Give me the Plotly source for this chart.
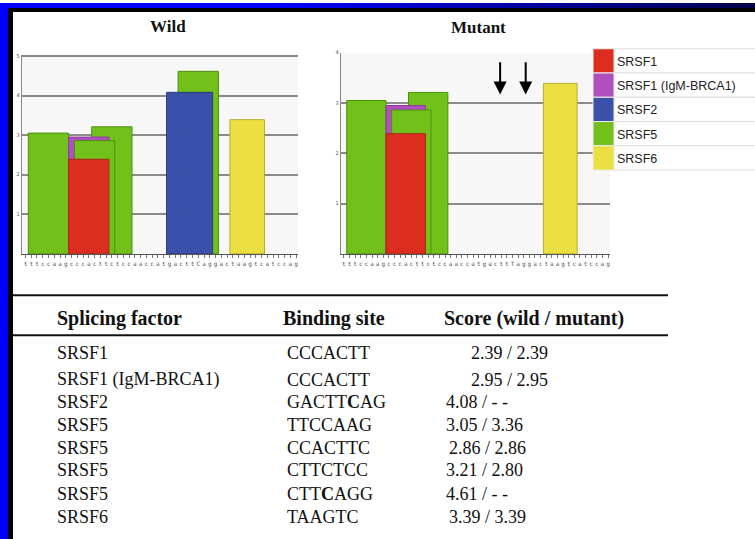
import plotly.graph_objects as go

W, H = 755, 539

# ---------------- data ----------------
factors = ["SRSF1", "SRSF1 (IgM-BRCA1)", "SRSF2", "SRSF5", "SRSF5", "SRSF5", "SRSF5", "SRSF6"]
sites = ["CCCACTT", "CCCACTT", "GACTTCAG", "TTCCAAG", "CCACTTC", "CTTCTCC", "CTTCAGG", "TAAGTC"]
sites_display = ["CCCACTT", "CCCACTT", "GACTT<b>C</b>AG", "TTCCAAG", "CCACTTC", "CTTCTCC",
                 "CTT<b>C</b>AGG", "TAAGTC"]
score_wild = [2.39, 2.95, 4.08, 3.05, 2.86, 3.21, 4.61, 3.39]
score_mutant_table = ["2.39", "2.95", "- -", "3.36", "2.86", "2.80", "- -", "3.39"]
# bar heights as drawn in the "Mutant" chart
mutant_chart = [2.39, 2.95, None, 3.05, 2.86, 3.21, None, 3.39]
seq_wild = "ptttccaagcccacttctccaaccatgacttCaggactaagtcatccag"
seq_mut = "ptttccaagcccacttctccaaccatgacttTaggactaagtcatccag"
legend_names = ["SRSF1", "SRSF1 (IgM-BRCA1)", "SRSF2", "SRSF5", "SRSF6"]
wild_yticks = [1, 2, 3, 4, 5]
mut_yticks = [1, 2, 3, 4]
arrow_pos = [29.8, 34.35]

# ---------------- styles ----------------
fill = {"SRSF1": "#dc2e1f", "SRSF1 (IgM-BRCA1)": "#b04fc0", "SRSF2": "#3b50a8",
        "SRSF5": "#72c11a", "SRSF6": "#ebdf42"}
edge = {"SRSF1": "#a8261a", "SRSF1 (IgM-BRCA1)": "#8a3a99", "SRSF2": "#2c3c80",
        "SRSF5": "#4e8f10", "SRSF6": "#b8ad30"}
draw_order = [3, 5, 1, 4, 0, 6, 2, 7]


def px(x):
    return x / W


def py(y):
    return 1 - y / H


fig = go.Figure()


def add_bars(seq, heights, xa, ya):
    for i in draw_order:
        h = heights[i]
        pos = seq.lower().find(sites[i].lower())
        if h is None or pos < 0:
            continue
        start = pos + 1
        L = len(sites[i])
        fig.add_trace(go.Bar(
            x=[start + (L - 1) / 2], y=[h], width=[L],
            marker=dict(color=fill[factors[i]], line=dict(color=edge[factors[i]], width=1)),
            xaxis=xa, yaxis=ya, showlegend=False, name=factors[i],
        ))


add_bars(seq_wild, score_wild, "x", "y")
add_bars(seq_mut, mutant_chart, "x2", "y2")

axis_x_common = dict(
    showgrid=False, zeroline=False, showline=True, linecolor="#555", linewidth=1.5,
    ticks="outside", ticklen=3, tickcolor="#777", tickwidth=1,
    tickfont=dict(family="DejaVu Sans Mono", size=6, color="#555"),
    tickangle=0, fixedrange=True,
)
axis_y_common = dict(
    showgrid=True, gridcolor="#8a8a8a", gridwidth=2, zeroline=False,
    showline=True, linecolor="#888", linewidth=1, ticks="",
    tickfont=dict(family="DejaVu Sans", size=5, color="#555"), fixedrange=True,
)

fig.update_layout(
    width=W, height=H, margin=dict(l=0, r=0, t=0, b=0),
    paper_bgcolor="white", plot_bgcolor="#f7f7f7",
    barmode="overlay", bargap=0,
    xaxis=dict(domain=[px(21.7), px(298)], range=[1.35, 49.32],
               tickvals=list(range(1, len(seq_wild) + 1)), ticktext=list(seq_wild),
               anchor="y", **axis_x_common),
    yaxis=dict(domain=[py(252.3), py(52)], range=[0, 5.03], tickvals=wild_yticks,
               anchor="x", **axis_y_common),
    xaxis2=dict(domain=[px(340.7), px(610)], range=[1.43, 49.35],
                tickvals=list(range(1, len(seq_mut) + 1)), ticktext=list(seq_mut),
                anchor="y2", **axis_x_common),
    yaxis2=dict(domain=[py(252.3), py(50)], range=[0, 4.0], tickvals=mut_yticks,
                anchor="x2", **axis_y_common),
)

shapes = []
annotations = []

# ---------------- slide frame ----------------
shapes.append(dict(type="rect", xref="paper", yref="paper", x0=0, x1=px(8), y0=0, y1=1,
                   fillcolor="#0000ff", line=dict(width=0), layer="above"))
shapes.append(dict(type="rect", xref="paper", yref="paper", x0=px(8), x1=px(13), y0=0, y1=py(5),
                   fillcolor="#000000", line=dict(width=0), layer="above"))
N = 24
for k in range(N):
    x0 = k * W / N
    x1 = (k + 1) * W / N
    t = max(0.0, (x0 - 260) / (W - 260))
    b = int(255 - t * (255 - 70))
    shapes.append(dict(type="rect", xref="paper", yref="paper", x0=px(x0), x1=px(x1) + 0.001,
                       y0=py(5.5), y1=1, fillcolor=f"rgb(0,0,{b})", line=dict(width=0),
                       layer="above"))
shapes.append(dict(type="rect", xref="paper", yref="paper", x0=px(8), x1=1, y0=py(9), y1=py(5),
                   fillcolor="#000000", line=dict(width=0), layer="above"))

# ---------------- titles ----------------
annotations.append(dict(text="<b>Wild</b>", x=px(168), y=py(24), xref="paper", yref="paper",
                        showarrow=False, xanchor="center", yanchor="middle",
                        font=dict(family="Liberation Serif", size=17, color="#111")))
annotations.append(dict(text="<b>Mutant</b>", x=px(478), y=py(25), xref="paper", yref="paper",
                        showarrow=False, xanchor="center", yanchor="middle",
                        font=dict(family="Liberation Serif", size=17, color="#111")))

# ---------------- arrows ----------------
for xa in arrow_pos:
    annotations.append(dict(x=xa, y=3.17, ax=xa, ay=3.84, xref="x2", yref="y2",
                            axref="x2", ayref="y2", text="", showarrow=True,
                            arrowhead=2, arrowsize=1.3, arrowwidth=2, arrowcolor="#000"))

# ---------------- legend ----------------
row_h = 24.4
for i, name in enumerate(legend_names):
    y0 = 46 + i * row_h
    y1 = y0 + row_h
    shapes.append(dict(type="rect", xref="paper", yref="paper", x0=px(614), x1=px(756),
                       y0=py(y1), y1=py(y0), fillcolor="white",
                       line=dict(color="#dddddd", width=1), layer="above"))
    shapes.append(dict(type="rect", xref="paper", yref="paper", x0=px(593), x1=px(614),
                       y0=py(y1), y1=py(y0), fillcolor=fill[name],
                       line=dict(color="#eeeeee", width=1), layer="above"))
    annotations.append(dict(text=name, x=px(615), y=py((y0 + y1) / 2 + 1), xref="paper",
                            yref="paper", showarrow=False, xanchor="left", yanchor="middle",
                            font=dict(family="Liberation Sans", size=12.5, color="#222")))

# ---------------- table ----------------
for yy in (294, 334):
    shapes.append(dict(type="line", xref="paper", yref="paper", x0=px(13), x1=px(668),
                       y0=py(yy), y1=py(yy), line=dict(color="#111", width=2)))

hdr_font = dict(family="Liberation Serif", size=20, color="#111")
for txt, xx in (("Splicing factor", 55), ("Binding site", 281), ("Score (wild / mutant)", 442)):
    annotations.append(dict(text=f"<b>{txt}</b>", x=px(xx), y=py(317), xref="paper",
                            yref="paper", showarrow=False, xanchor="left", yanchor="middle",
                            font=hdr_font))

row_y = [352, 379, 401, 424, 447, 470, 494, 517]
score_x = [469, 469, 444, 444, 447, 444, 444, 447]
row_font = dict(family="Liberation Serif", size=18, color="#111")
for i in range(len(factors)):
    annotations.append(dict(text=factors[i], x=px(55), y=py(row_y[i]), xref="paper",
                            yref="paper", showarrow=False, xanchor="left", yanchor="middle",
                            font=row_font))
    annotations.append(dict(text=sites_display[i], x=px(285), y=py(row_y[i]), xref="paper",
                            yref="paper", showarrow=False, xanchor="left", yanchor="middle",
                            font=row_font))
    annotations.append(dict(text=f"{score_wild[i]:.2f} / {score_mutant_table[i]}",
                            x=px(score_x[i]), y=py(row_y[i]), xref="paper", yref="paper",
                            showarrow=False, xanchor="left", yanchor="middle", font=row_font))

fig.update_layout(shapes=shapes, annotations=annotations)
fig.write_html("out.html", config={"displayModeBar": False, "staticPlot": True})

# remove the default page margin so the figure fills the window exactly
with open("out.html", encoding="utf-8") as f:
    html = f.read()
html = html.replace("<head>", "<head><style>html,body{margin:0;padding:0;overflow:hidden;}</style>", 1)
with open("out.html", "w", encoding="utf-8") as f:
    f.write(html)
